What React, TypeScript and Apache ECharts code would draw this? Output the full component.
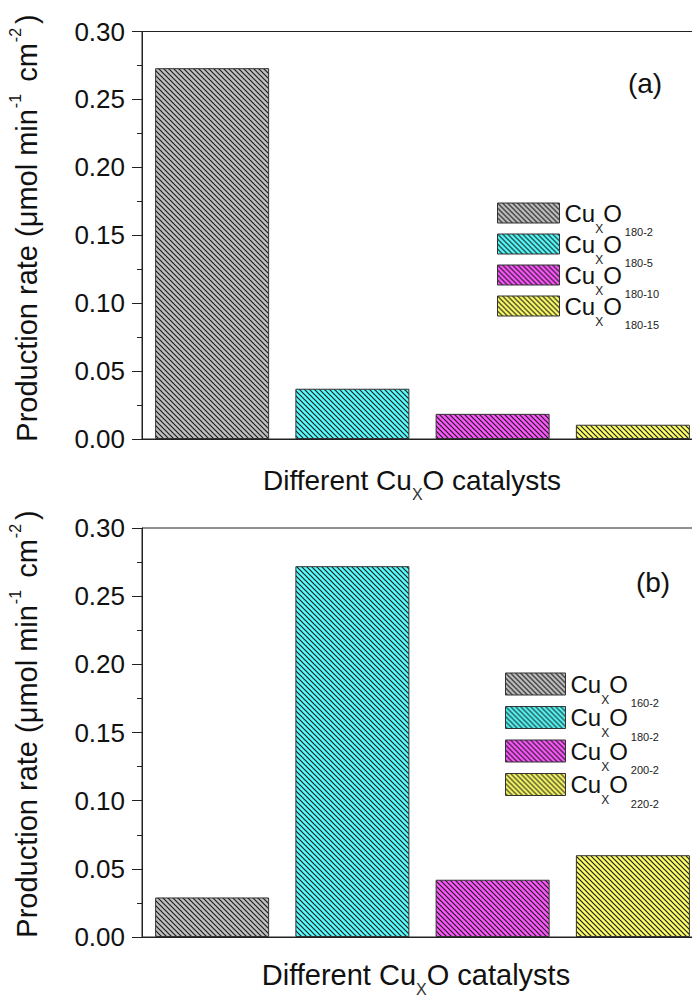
import React, { useEffect, useRef } from 'react';
import * as echarts from 'echarts';

const FONT = '"Liberation Sans", Arial, sans-serif';

// Panel (a)
const categoriesA = ['CuXO180-2', 'CuXO180-5', 'CuXO180-10', 'CuXO180-15'];
const legendSubA = ['180-2', '180-5', '180-10', '180-15'];
const valuesA = [0.273, 0.037, 0.0185, 0.0105];

// Panel (b)
const categoriesB = ['CuXO160-2', 'CuXO180-2', 'CuXO200-2', 'CuXO220-2'];
const legendSubB = ['160-2', '180-2', '200-2', '220-2'];
const valuesB = [0.029, 0.272, 0.042, 0.06];

// y axis
const yMin = 0;
const yMax = 0.3;
const yInterval = 0.05;

const baseColors = ['#c0c0c0', '#55ffff', '#ff55ff', '#ffff66'];

function hatch(base: string) {
  const p = 5;
  const c = document.createElement('canvas');
  c.width = p;
  c.height = p;
  const ctx = c.getContext('2d')!;
  ctx.fillStyle = base;
  ctx.fillRect(0, 0, p, p);
  ctx.strokeStyle = '#1e1e1e';
  ctx.lineWidth = 1.2;
  ctx.beginPath();
  ctx.moveTo(-1, -1);
  ctx.lineTo(p + 1, p + 1);
  ctx.moveTo(p - 1, -1);
  ctx.lineTo(p + 1, 1);
  ctx.moveTo(-1, p - 1);
  ctx.lineTo(1, p + 1);
  ctx.stroke();
  return { image: c, repeat: 'repeat' };
}

function makeSeries(subs: string[], values: number[], prefix: string, idx: number) {
  return subs.map((s, i) => ({
    type: 'bar',
    name: prefix + s,
    xAxisIndex: idx,
    yAxisIndex: idx,
    data: values.map((v, j) => (j === i ? v : '-')),
    barWidth: 114,
    barGap: '-100%',
    itemStyle: { color: hatch(baseColors[i]), borderColor: '#333', borderWidth: 1 },
  }));
}

function makeLegend(subs: string[], prefix: string, left: number, top: number, w: number, h: number, gap: number) {
  return {
    orient: 'vertical',
    left,
    top,
    padding: 0,
    itemWidth: w,
    itemHeight: h,
    itemGap: gap,
    icon: 'rect',
    selectedMode: false,
    data: subs.map((s) => prefix + s),
    itemStyle: { borderColor: '#333', borderWidth: 1 },
    formatter: (name: string) => `Cu{x|X}O{s|${name.slice(prefix.length)}}`,
    textStyle: {
      fontSize: 24,
      fontFamily: FONT,
      color: '#111',
      lineHeight: 50,
      rich: {
        x: { fontSize: 12, verticalAlign: 'bottom', fontFamily: FONT, color: '#222', padding: [0, 0, 3.5, 0] },
        s: { fontSize: 11, verticalAlign: 'bottom', fontFamily: FONT, color: '#222', padding: [0, 0, 0.5, 3] },
      },
    },
  };
}

function makeXAxis(cats: string[], idx: number) {
  return {
    type: 'category',
    gridIndex: idx,
    data: cats,
    axisLine: { lineStyle: { color: '#222', width: 1 } },
    axisTick: { show: false },
    axisLabel: { show: false },
  };
}

function makeYAxis(idx: number) {
  return {
    type: 'value',
    gridIndex: idx,
    min: yMin,
    max: yMax,
    interval: yInterval,
    axisLine: { show: true, lineStyle: { color: '#222', width: 1 } },
    axisTick: { show: true, inside: false, length: 10, lineStyle: { color: '#222' } },
    minorTick: { show: true, splitNumber: 2, length: 5, lineStyle: { color: '#222' } },
    splitLine: { show: false },
    axisLabel: {
      margin: 17,
      fontSize: 26,
      fontFamily: FONT,
      color: '#111',
      formatter: (v: number) => v.toFixed(2),
    },
  };
}

function yTitle(x: number, y: number) {
  return {
    type: 'text',
    x,
    y,
    rotation: Math.PI / 2,
    style: {
      text: 'Production rate (μmol min{sup|-1} cm{sup|-2})',
      fontSize: 29,
      fontFamily: FONT,
      fill: '#111',
      align: 'center',
      verticalAlign: 'middle',
      lineHeight: 40,
      rich: {
        sup: { fontSize: 16, lineHeight: 16, verticalAlign: 'top', fontFamily: FONT, fill: '#111', padding: [0, 4, 0, 1] },
      },
    },
  };
}

function xTitle(x: number, y: number, size: number) {
  return {
    type: 'text',
    x,
    y,
    style: {
      text: 'Different Cu{sub|X}O catalysts',
      fontSize: size,
      fontFamily: FONT,
      fill: '#111',
      align: 'center',
      verticalAlign: 'middle',
      lineHeight: 44,
      rich: {
        sub: { fontSize: 16, lineHeight: 16, verticalAlign: 'bottom', fontFamily: FONT, fill: '#333' },
      },
    },
  };
}

function panelLabel(text: string, x: number, y: number) {
  return {
    type: 'text',
    x,
    y,
    style: { text, fontSize: 28, fontFamily: FONT, fill: '#111', align: 'center', verticalAlign: 'middle' },
  };
}

export default function App() {
  const ref = useRef<HTMLDivElement>(null);
  useEffect(() => {
    if (!ref.current) return;
    const chart = echarts.init(ref.current, undefined, { renderer: 'svg' });
    const gridStyle = { show: true, borderColor: '#222', borderWidth: 1, backgroundColor: 'transparent' };
    chart.setOption({
      animation: false,
      backgroundColor: '#fff',
      grid: [
        { left: 142, top: 31.5, width: 561, height: 407.5, ...gridStyle },
        { left: 142, top: 528, width: 561, height: 409, ...gridStyle },
      ],
      xAxis: [makeXAxis(categoriesA, 0), makeXAxis(categoriesB, 1)],
      yAxis: [makeYAxis(0), makeYAxis(1)],
      legend: [
        makeLegend(legendSubA, 'a:', 497, 188, 62, 20, -19),
        makeLegend(legendSubB, 'b:', 505, 659, 60, 22, -16.5),
      ],
      series: [...makeSeries(legendSubA, valuesA, 'a:', 0), ...makeSeries(legendSubB, valuesB, 'b:', 1)],
      graphic: [
        yTitle(27, 228),
        yTitle(27, 724),
        xTitle(412, 480, 28),
        xTitle(416, 975, 29),
        panelLabel('(a)', 645, 83),
        panelLabel('(b)', 653, 582),
      ],
    });
    return () => chart.dispose();
  }, []);
  return (
    <div style={{ position: 'absolute', left: 0, top: 0, width: 692, height: 998, overflow: 'hidden', background: '#fff' }}>
      <div ref={ref} style={{ width: 720, height: 998 }} />
    </div>
  );
}
